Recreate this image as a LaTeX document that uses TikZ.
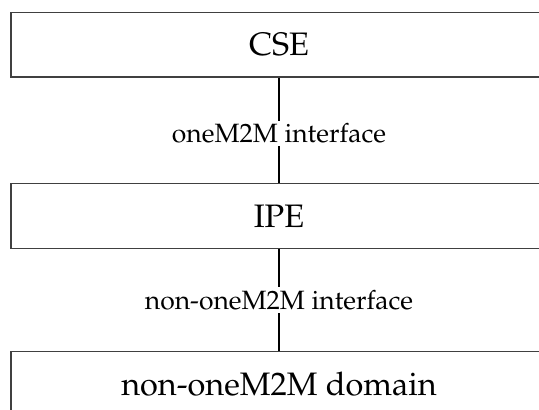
\documentclass[tikz,border=0pt]{standalone}
\usepackage[T1]{fontenc}
\renewcommand{\rmdefault}{ppl}

\begin{document}
\begin{tikzpicture}
        [x=1pt,y=-1pt,
        layer/.style={draw=black!75,line width=1.2pt,shape=rectangle,inner sep=0,minimum width=536pt,minimum height=64.5pt,font=\fontsize{32.5}{32.5}\selectfont},
        iface/.style={fill=white,inner sep=3pt,font=\fontsize{26.5}{26.5}\selectfont},
        link/.style={line width=2pt}]

        \useasboundingbox (0,0) rectangle (539,410);
        \clip (0,0) rectangle (539,410);

        \node[layer] (cse) at (279,44.75) {CSE};
        \node[layer] (ipe) at (279,216) {IPE};
        \node[layer] (dom) at (279,384) {non-oneM2M domain};

        \draw[link] (cse) -- (ipe) node[iface,pos=0.53] (if1) {oneM2M interface};
        \draw[link] (ipe) -- (dom) node[iface,midway] (if2) {non-oneM2M interface};

      \end{tikzpicture}
\end{document}
